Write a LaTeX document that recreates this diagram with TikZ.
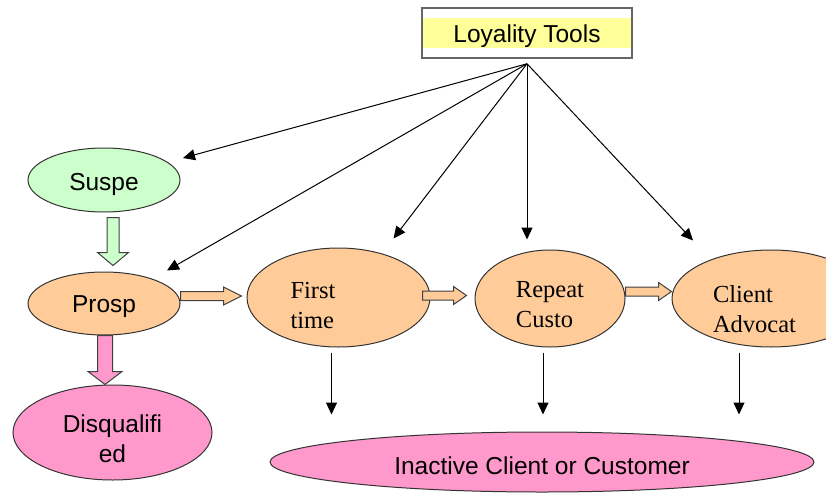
\documentclass[tikz,border=0pt]{standalone}
\usepackage{fontspec}
\setmainfont{Liberation Serif}
\newfontfamily\arialfont{Liberation Sans}
\usetikzlibrary{shapes.geometric,arrows.meta,calc}

\definecolor{mintfill}{HTML}{CCFFCC}
\definecolor{peachfill}{HTML}{FFCC99}
\definecolor{pinkfill}{HTML}{FF99CC}
\definecolor{toolyellow}{HTML}{FFFF99}

% block arrows: tail, tip, fill, half shaft, half head, head length
\newcommand{\fatright}[6]{%
  \draw[fat, fill=#3] ($(#1)+(0,-#4)$) -- ($(#2)+(-#6,-#4)$) -- ($(#2)+(-#6,-#5)$) -- (#2)
    -- ($(#2)+(-#6,#5)$) -- ($(#2)+(-#6,#4)$) -- ($(#1)+(0,#4)$) -- cycle;}
\newcommand{\fatdown}[6]{%
  \draw[fat, fill=#3] ($(#1)+(-#4,0)$) -- ($(#2)+(-#4,-#6)$) -- ($(#2)+(-#5,-#6)$) -- (#2)
    -- ($(#2)+(#5,-#6)$) -- ($(#2)+(#4,-#6)$) -- ($(#1)+(#4,0)$) -- cycle;}

\begin{document}
\begin{tikzpicture}[x=1pt,y=-1pt,>={Triangle[length=12pt,width=11pt]},line width=1pt,
  bubble/.style={ellipse,draw=black!80,line width=1pt,inner sep=0pt},
  sanstext/.style={font=\arialfont\fontsize{24.5}{30}\selectfont,align=center,text depth=0pt},
  seriftext/.style={font=\fontsize{24.5}{30}\selectfont,align=left,text depth=0pt,text height=57pt},
  fat/.style={draw=black!75,line width=1pt}]
  \useasboundingbox (0,0) rectangle (826,495);

  \node[draw=black!60, line width=1.5pt, fill=white, minimum width=210, minimum height=50, sanstext, text height=18pt,
    path picture={\fill[toolyellow] ($(path picture bounding box.west)+(0,-15)$) rectangle ($(path picture bounding box.east)+(0,15)$);}]
    (tools) at (527,33) {Loyality Tools};

  \node[bubble, fill=mintfill, minimum width=152, minimum height=64, sanstext, text height=20pt] (suspe) at (104,180) {Suspe};
  \node[bubble, fill=peachfill, minimum width=152, minimum height=63, sanstext, text height=17pt] (prosp) at (104,303.5) {Prosp};
  \node[bubble, fill=pinkfill, minimum width=199, minimum height=95, sanstext, text height=59pt] (disq) at (112.5,432.5) {Disqualifi\\ed};
  \node[bubble, fill=peachfill, minimum width=183, minimum height=99, seriftext, text width=96, text height=29.5pt, text depth=28.5pt] (first) at (338.5,297.5) {First\\time};
  \node[bubble, fill=peachfill, minimum width=150, minimum height=97, seriftext] (repeat) at (550,298.5) {Repeat\\Custo};
  \node[bubble, fill=peachfill, minimum width=198, minimum height=97, seriftext, text width=116, text height=32pt, text depth=25pt] (client) at (771,298.5) {Client\\Advocat};
  \node[bubble, fill=pinkfill, minimum width=544, minimum height=60, sanstext, text height=24pt] (inactive) at (542,462) {Inactive Client or Customer};

  % arrows from the tools box
  \coordinate (hub) at ($(tools.south)+(0,5)$);
  \coordinate (tsuspe) at ([shift={(79,-22)}]suspe.center);
  \coordinate (tprosp) at ([shift={(63,-33)}]prosp.center);
  \coordinate (tfirst) at ([shift={(55,-59)}]first.center);
  \coordinate (trepeat) at ([shift={(-23,-59)}]repeat.center);
  \coordinate (tclient) at ([shift={(-78,-58)}]client.center);
  \foreach \t in {tsuspe,tprosp,tfirst,trepeat,tclient}
    \draw[->] (hub) -- (\t);

  % down to inactive
  \coordinate (dfirst) at ([shift={(-7,5)}]first.south);
  \coordinate (drepeat) at ([shift={(-7,5)}]repeat.south);
  \coordinate (dclient) at ([shift={(-32,5)}]client.south);
  \foreach \d in {dfirst,drepeat,dclient}
    \draw[->] (\d) -- ($(inactive.north -| \d)+(0,-17)$);

  % block arrows
  \coordinate (sp1) at ([shift={(9,5)}]suspe.south);
  \coordinate (sp2) at ($(prosp.north -| sp1)+(0,-6)$);
  \fatdown{sp1}{sp2}{mintfill}{6}{15.5}{13}
  \coordinate (pd1) at ([shift={(1,0)}]prosp.south);
  \coordinate (pd2) at (disq.north -| pd1);
  \fatdown{pd1}{pd2}{pinkfill}{7.5}{17}{13}
  \coordinate (pf2) at ([shift={(-5,-1.5)}]first.west);
  \coordinate (pf1) at (prosp.east |- pf2);
  \fatright{pf1}{pf2}{peachfill}{4.5}{9}{18}
  \coordinate (fr1) at ([shift={(-8,-2)}]first.east);
  \coordinate (fr2) at ($(repeat.west |- fr1)+(-8,0)$);
  \fatright{fr1}{fr2}{peachfill}{4.5}{9}{13}
  \coordinate (rc1) at ([shift={(0,-7)}]repeat.east);
  \coordinate (rc2) at (client.west |- rc1);
  \fatright{rc1}{rc2}{peachfill}{4.5}{9}{13}
\end{tikzpicture}
\end{document}
